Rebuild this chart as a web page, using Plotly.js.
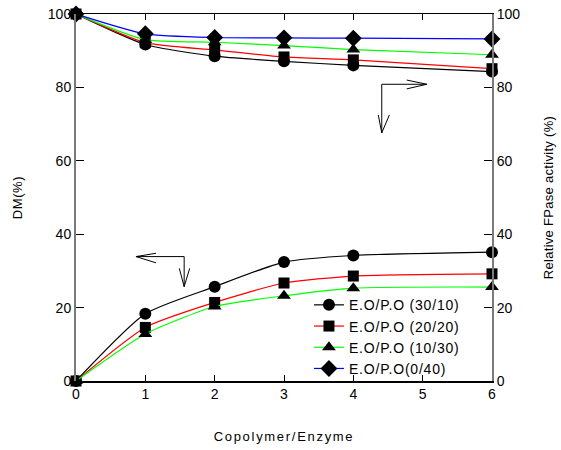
<!DOCTYPE html>
<html>
<head>
<meta charset="utf-8">
<script src="https://cdn.plot.ly/plotly-3.0.1.min.js"></script>
<style>
body{margin:0;background:#fff}#chart{width:561px;height:450px}
#chart text.xtitle{letter-spacing:1.7px}
#chart text.ytitle{letter-spacing:0.6px}
#chart text.y2title{letter-spacing:0.3px}
#chart text.legendtext{letter-spacing:0.8px}
#chart .legend .scrollbox{clip-path:none !important}
</style>
</head>
<body>
<div id="chart"></div>
<script>
const ratio = [0, 1, 2, 3, 4, 6];
const seriesNames = ['E.O/P.O (30/10)', 'E.O/P.O (20/20)', 'E.O/P.O (10/30)', 'E.O/P.O(0/40)'];
// DM (%) - left axis
const dm_30_10 = [0, 18.3, 25.7, 32.4, 34.2, 35.1];
const dm_20_20 = [0, 14.6, 21.4, 26.7, 28.6, 29.2];
const dm_10_30 = [0, 12.8, 20.3, 23.2, 25.3, 25.6];
// Relative FPase activity (%) - right axis
const act_30_10 = [100, 91.7, 88.5, 87.1, 86.0, 84.3];
const act_20_20 = [100, 92.2, 90.2, 88.3, 87.5, 85.1];
const act_10_30 = [100, 93.0, 92.3, 91.4, 90.3, 88.9];
const act_0_40 = [100, 94.6, 93.6, 93.5, 93.4, 93.2];
const xTicks = [0, 1, 2, 3, 4, 5, 6];
const yTicks = [0, 20, 40, 60, 80, 100];

const colors = ['#000000', '#ff0000', '#00ff00', '#0000ff'];
const symbols = ['circle', 'square', 'triangle-up', 'diamond'];
const msize = [12, 11, 12, 13];

function tr(y, i, axis, legend) {
  return {
    x: ratio, y: y, type: 'scatter', mode: 'lines+markers',
    name: seriesNames[i], yaxis: axis, showlegend: legend,
    line: {color: colors[i], width: 1.2, shape: 'spline', smoothing: 0.6},
    marker: {color: '#000', symbol: symbols[i], size: msize[i]},
    cliponaxis: false
  };
}
const dmSeries = [dm_30_10, dm_20_20, dm_10_30];
const actSeries = [act_30_10, act_20_20, act_10_30, act_0_40];
const data = [];
actSeries.forEach((s, i) => data.push(tr(s, i, 'y2', true)));
dmSeries.forEach((s, i) => data.push(tr(s, i, 'y', false)));

const font = {family: 'Liberation Sans, Arial, sans-serif', color: '#000'};
const arrowLine = {color: '#000', width: 1};
const layout = {
  width: 561, height: 450,
  margin: {l: 76, r: 69, t: 14, b: 69},
  paper_bgcolor: '#fff', plot_bgcolor: '#fff',
  font: Object.assign({size: 14}, font),
  showlegend: true,
  legend: {x: 0.56, y: 0.25, xanchor: 'left', yanchor: 'top', bgcolor: 'rgba(0,0,0,0)',
           font: Object.assign({size: 14}, font), tracegroupgap: 0, itemwidth: 30},
  xaxis: {
    range: [0, 6], tickvals: xTicks, ticktext: xTicks.map(String),
    showgrid: false, zeroline: false, showline: true, linecolor: '#000', linewidth: 1.5,
    mirror: 'ticks', ticks: 'inside', ticklen: 6, tickcolor: '#000', tickwidth: 1,
    tickfont: Object.assign({size: 14}, font),
    title: {text: 'Copolymer/Enzyme', font: Object.assign({size: 13}, font), standoff: 30}
  },
  yaxis: {
    range: [0, 100], tickvals: yTicks, ticktext: yTicks.map(String),
    showgrid: false, zeroline: false, showline: true, linecolor: '#7a7a7a', linewidth: 2,
    ticks: 'inside', ticklen: 8, tickcolor: '#000', tickwidth: 1,
    tickfont: Object.assign({size: 14}, font),
    title: {text: 'DM(%)', font: Object.assign({size: 13}, font), standoff: 22}
  },
  yaxis2: {
    range: [0, 100], tickvals: yTicks, ticktext: yTicks.map(String),
    overlaying: 'y', side: 'right',
    showgrid: false, zeroline: false, showline: true, linecolor: '#7a7a7a', linewidth: 2,
    ticks: 'inside', ticklen: 8, tickcolor: '#000', tickwidth: 1,
    tickfont: Object.assign({size: 14}, font),
    title: {text: 'Relative FPase activity (%)', font: Object.assign({size: 13}, font), standoff: 25}
  },
  shapes: [
    // right-pointing / down arrow (upper curves -> right axis)
    {type: 'path', xref: 'x', yref: 'y', line: arrowLine, path: 'M 5.06 80.85 L 4.41 80.85 L 4.41 67.6'},
    {type: 'path', xref: 'x', yref: 'y', line: arrowLine, path: 'M 4.77 82.0 L 5.06 80.85 L 4.77 79.6'},
    {type: 'path', xref: 'x', yref: 'y', line: arrowLine, path: 'M 4.36 72.5 L 4.41 67.6 L 4.52 72.5'},
    // left-pointing / down arrow (lower curves -> left axis)
    {type: 'path', xref: 'x', yref: 'y', line: arrowLine, path: 'M 0.865 33.9 L 1.56 33.9 L 1.56 25.7'},
    {type: 'path', xref: 'x', yref: 'y', line: arrowLine, path: 'M 1.154 34.8 L 0.865 33.9 L 1.154 32.2'},
    {type: 'path', xref: 'x', yref: 'y', line: arrowLine, path: 'M 1.49 30.7 L 1.56 25.7 L 1.64 30.7'}
  ]
};
Plotly.newPlot('chart', data, layout, {displayModeBar: false, staticPlot: true});
</script>
</body>
</html>
